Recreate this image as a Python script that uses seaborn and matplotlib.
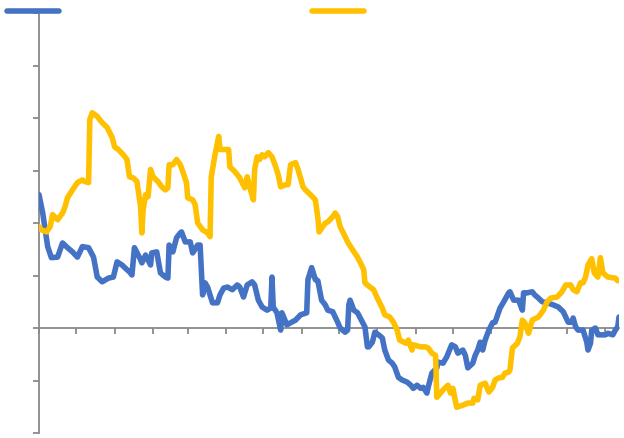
import numpy as np
import pandas as pd
import matplotlib
matplotlib.use("Agg")
import matplotlib.pyplot as plt
import matplotlib.dates as mdates
import seaborn as sns

# ---- data (days since 2021-11-01, values) ----
blue_day = [0, 3, 7, 10, 15, 19, 23, 27, 31, 35,
            40, 44, 47, 51, 56, 60, 63, 67, 71, 73,
            75, 77, 82, 83, 86, 90, 91, 95, 98, 102,
            104, 105, 108, 111, 114, 115, 118, 122, 124, 128,
            130, 132, 134, 136, 140, 144, 146, 149, 152, 156,
            160, 162, 165, 168, 172, 174, 177, 180, 184, 187,
            188, 189, 192, 195, 196, 200, 203, 207, 211, 216,
            217, 220, 223, 225, 228, 231, 233, 237, 241, 243,
            247, 249, 250, 251, 254, 257, 261, 263, 265, 266,
            269, 271, 274, 277, 279, 282, 285, 287, 290, 293,
            297, 300, 302, 305, 308, 310, 313, 314, 317, 321,
            322, 326, 329, 333, 336, 338, 342, 344, 346, 350,
            352, 354, 356, 358, 360, 363, 366, 368, 371, 372,
            375, 379, 380, 383, 387, 390, 391, 394, 398, 400,
            403, 406, 410, 415, 419, 423, 425, 427, 430, 431,
            433, 435, 439, 442, 443, 445, 446, 449, 451, 457,
            459, 463, 465, 467, 468]
blue_val = [2.54, 2.19, 1.55, 1.34, 1.35, 1.62, 1.53, 1.45, 1.35, 1.55,
            1.53, 1.35, 0.97, 0.88, 0.95, 0.97, 1.26, 1.20, 1.11, 1.07,
            1.01, 1.53, 1.30, 1.24, 1.39, 1.20, 1.43, 1.45, 1.05, 0.97,
            0.95, 1.58, 1.45, 1.72, 1.81, 1.83, 1.64, 1.64, 1.43, 1.58,
            1.58, 0.63, 0.86, 0.78, 0.48, 0.48, 0.63, 0.76, 0.78, 0.73,
            0.82, 0.78, 0.59, 0.82, 0.88, 0.82, 0.53, 0.40, 0.34, 0.38,
            0.97, 0.40, 0.29, -0.04, 0.29, 0.06, 0.10, 0.15, 0.25, 0.29,
            0.92, 1.15, 0.92, 0.90, 0.53, 0.44, 0.34, 0.31, 0.11, 0.00,
            -0.08, -0.04, 0.44, 0.53, 0.34, 0.29, 0.11, 0.02, -0.36, -0.36,
            -0.27, -0.08, -0.13, -0.19, -0.42, -0.61, -0.67, -0.74, -0.94, -0.99,
            -1.03, -1.09, -1.15, -1.09, -1.15, -1.13, -1.24, -1.13, -0.86, -0.76,
            -0.65, -0.67, -0.55, -0.32, -0.36, -0.48, -0.42, -0.52, -0.76, -0.67,
            -0.52, -0.42, -0.27, -0.42, -0.23, -0.04, 0.10, 0.11, 0.31, 0.38,
            0.50, 0.67, 0.69, 0.53, 0.53, 0.34, 0.67, 0.67, 0.69, 0.63,
            0.57, 0.50, 0.48, 0.44, 0.40, 0.31, 0.21, 0.11, 0.11, 0.19,
            0.02, -0.04, -0.04, -0.27, -0.42, -0.29, -0.04, 0.00, -0.13, -0.13,
            -0.10, -0.13, -0.04, 0.02, 0.21]

orange_day = [0, 2, 6, 9, 11, 15, 19, 21, 23, 27,
              31, 35, 37, 40, 41, 43, 47, 51, 55, 59,
              61, 64, 68, 71, 73, 76, 79, 82, 83, 84,
              86, 88, 90, 92, 96, 99, 102, 104, 105, 108,
              111, 114, 116, 119, 120, 124, 126, 128, 132, 136,
              138, 139, 140, 142, 145, 146, 149, 153, 154, 158,
              162, 166, 168, 170, 173, 174, 176, 178, 180, 182,
              185, 188, 191, 193, 195, 199, 201, 203, 207, 209,
              211, 213, 215, 219, 223, 225, 226, 231, 233, 237,
              239, 241, 243, 247, 249, 253, 257, 259, 262, 263,
              267, 270, 273, 277, 279, 283, 286, 289, 291, 296,
              298, 301, 302, 308, 312, 314, 317, 320, 321, 324,
              326, 330, 332, 334, 337, 342, 346, 350, 351, 354,
              356, 360, 363, 366, 368, 371, 374, 376, 379, 380,
              382, 386, 388, 390, 392, 395, 398, 403, 407, 410,
              413, 418, 422, 425, 429, 431, 434, 437, 439, 441,
              443, 446, 448, 451, 453, 455, 459, 465, 467]
orange_val = [1.93, 1.87, 1.83, 1.93, 2.16, 2.06, 2.19, 2.31, 2.48, 2.63,
              2.77, 2.82, 2.79, 2.77, 3.97, 4.10, 4.03, 3.91, 3.82, 3.63,
              3.45, 3.40, 3.30, 3.21, 2.88, 2.86, 2.79, 2.31, 1.81, 2.25,
              2.54, 2.50, 3.02, 2.88, 2.79, 2.69, 2.63, 2.67, 3.11, 3.11,
              3.21, 3.11, 2.98, 2.77, 2.48, 2.44, 2.35, 2.00, 1.87, 1.81,
              1.74, 2.88, 3.02, 3.30, 3.65, 3.40, 3.40, 3.40, 3.07, 2.98,
              2.86, 2.67, 2.88, 2.69, 2.44, 3.02, 3.26, 3.21, 3.30, 3.26,
              3.34, 3.26, 3.07, 2.92, 2.69, 2.73, 2.73, 3.11, 3.15, 3.02,
              2.86, 2.69, 2.63, 2.54, 2.44, 2.10, 1.83, 2.00, 2.02, 2.12,
              2.19, 2.12, 1.93, 1.74, 1.64, 1.49, 1.35, 1.26, 1.11, 0.86,
              0.78, 0.73, 0.57, 0.38, 0.25, 0.21, 0.11, -0.04, -0.23, -0.29,
              -0.23, -0.42, -0.32, -0.36, -0.36, -0.38, -0.48, -0.52, -1.32, -1.24,
              -1.18, -1.09, -1.24, -1.15, -1.51, -1.47, -1.43, -1.43, -1.34, -1.37,
              -1.09, -1.05, -1.22, -1.13, -0.99, -0.95, -0.94, -0.86, -0.84, -0.80,
              -0.38, -0.29, -0.17, 0.15, 0.10, -0.10, 0.15, 0.21, 0.34, 0.50,
              0.57, 0.59, 0.69, 0.82, 0.82, 0.73, 0.69, 0.86, 0.86, 0.97,
              1.20, 1.32, 1.05, 0.97, 1.34, 1.05, 0.97, 0.95, 0.90]

series_names = ["Series 1", "Series 2"]
series_colors = ["#4472C4", "#FFC000"]
start_date = "2021-11-01"

# ---- build long table ----
start = pd.Timestamp(start_date)
df = pd.concat([
    pd.DataFrame({"date": start + pd.to_timedelta(blue_day, unit="D"),
                  "value": blue_val, "series": series_names[0]}),
    pd.DataFrame({"date": start + pd.to_timedelta(orange_day, unit="D"),
                  "value": orange_val, "series": series_names[1]}),
], ignore_index=True)

sns.set_style("white")
plt.rcParams["font.family"] = ["DejaVu Sans"]

fig = plt.figure(figsize=(6.24, 4.39), dpi=100)
ax = fig.add_axes([39 / 624, 1 - 434 / 439, 580 / 624, 420 / 439])

sns.lineplot(data=df, x="date", y="value", hue="series",
             palette=dict(zip(series_names, series_colors)),
             estimator=None, sort=False, linewidth=4.0, legend=False, ax=ax,
             zorder=3)
for ln in ax.get_lines():
    ln.set_solid_capstyle("round")
    ln.set_solid_joinstyle("round")

gray = "#898989"
ax.set_ylim(-2, 6)
ax.set_yticks(range(-2, 7))
ax.set_xlim(start, start + pd.Timedelta(days=468))
ax.xaxis.set_major_locator(mdates.MonthLocator(bymonthday=1))

for s in ["top", "right"]:
    ax.spines[s].set_visible(False)
ax.spines["bottom"].set_position(("data", 0))
for s in ["left", "bottom"]:
    ax.spines[s].set_color(gray)
    ax.spines[s].set_linewidth(1.3)

ax.tick_params(axis="both", which="major", direction="out", length=4.5,
               width=1.3, color=gray, labelbottom=False, labelleft=False,
               bottom=True, left=True)
ax.set_xlabel("")
ax.set_ylabel("")
ax.grid(False)

# legend with line keys only
handles = ax.get_lines()[:2]
leg = fig.legend(handles, ["", ""], loc="center left",
                 bbox_to_anchor=(7 / 624, 1 - 12.5 / 439), ncol=2,
                 frameon=False, handlelength=3.75, handletextpad=0.0,
                 columnspacing=18.2, borderpad=0, borderaxespad=0,
                 fontsize=10)
for lh in leg.get_lines():
    lh.set_solid_capstyle("round")
    lh.set_linewidth(4.0)

fig.savefig("out.png", dpi=100)
